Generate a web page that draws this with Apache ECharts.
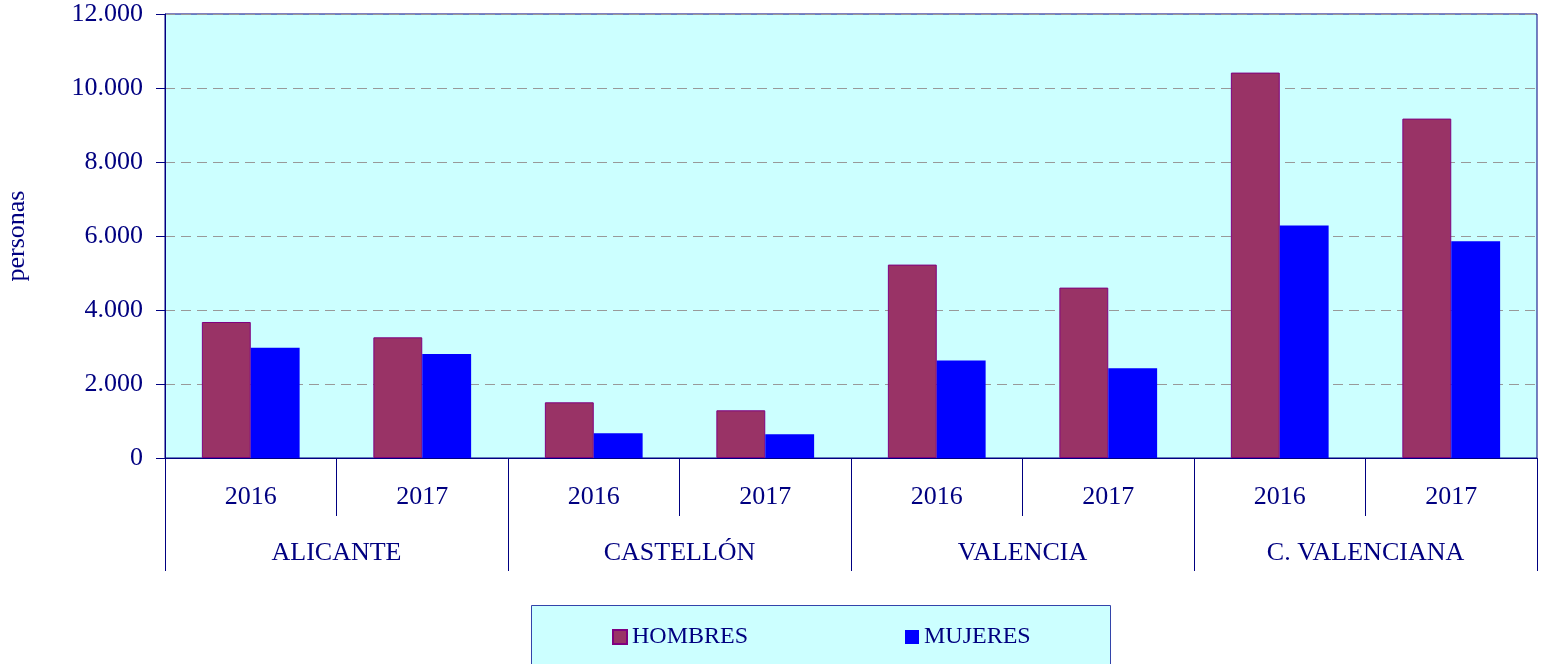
<!DOCTYPE html>
<html>
<head>
<meta charset="utf-8">
<script src="https://cdn.jsdelivr.net/npm/echarts@6/dist/echarts.min.js"></script>
<style>
  html, body { margin: 0; padding: 0; background: #fff; }
  #container { width: 1541px; height: 664px; }
</style>
</head>
<body>
<div id="container"></div>
<script>
// datos
var years = ['2016', '2017', '2016', '2017', '2016', '2017', '2016', '2017'];
var regions = ['ALICANTE', 'CASTELLÓN', 'VALENCIA', 'C. VALENCIANA'];
var hombres = [3676, 3261, 1505, 1289, 5227, 4605, 10416, 9173];
var mujeres = [2981, 2811, 668, 641, 2632, 2424, 6281, 5857];
var yTicks = { min: 0, max: 12000, interval: 2000 };

var navy = '#000080';
var font = '"Liberation Serif", "Times New Roman", serif';

var fmtMiles = function (v) {
    return String(v).replace(/\B(?=(\d{3})+(?!\d))/g, '.');
};

var dom = document.getElementById('container');
var myChart = echarts.init(dom);

var option = {
    animation: false,
    textStyle: { fontFamily: font, color: navy },
    grid: {
        left: 165,
        right: 4,
        top: 14,
        bottom: 206,
        outerBoundsMode: 'none',
        containLabel: false,
        show: true,
        backgroundColor: '#ccffff',
        borderColor: navy,
        borderWidth: 1
    },
    legend: {
        data: ['HOMBRES', 'MUJERES'],
        left: 612,
        top: 625,
        padding: 0,
        icon: 'rect',
        itemWidth: 14,
        itemHeight: 14,
        itemGap: 157,
        textStyle: { fontFamily: font, fontSize: 24, color: navy }
    },
    graphic: [{
        type: 'rect',
        z: -1,
        shape: { x: 531.5, y: 605.5, width: 579, height: 70 },
        style: { fill: '#ccffff', stroke: '#3344aa', lineWidth: 1 }
    }],
    xAxis: [
        {
            type: 'category',
            data: years,
            position: 'bottom',
            axisLine: { show: true, lineStyle: { color: navy, width: 1 } },
            axisTick: { show: true, interval: 0, length: 58, lineStyle: { color: navy, width: 1 } },
            axisLabel: { interval: 0, margin: 26, fontSize: 26, fontFamily: font, color: navy }
        },
        {
            type: 'category',
            data: regions,
            position: 'bottom',
            axisLine: { show: false },
            axisTick: { show: true, interval: 0, length: 113, lineStyle: { color: navy, width: 1 } },
            axisLabel: { interval: 0, margin: 82, fontSize: 26, fontFamily: font, color: navy }
        }
    ],
    yAxis: {
        type: 'value',
        min: yTicks.min,
        max: yTicks.max,
        interval: yTicks.interval,
        name: 'personas',
        nameLocation: 'middle',
        nameRotate: 90,
        nameGap: 135,
        nameTextStyle: { fontFamily: font, fontSize: 26, color: navy },
        axisLine: { show: true, lineStyle: { color: navy } },
        axisTick: { show: true, length: 9, lineStyle: { color: navy } },
        axisLabel: { margin: 22, fontSize: 26, fontFamily: font, color: navy, formatter: fmtMiles },
        splitLine: { lineStyle: { color: '#999999', type: [10, 6], width: 1 } }
    },
    series: [
        {
            name: 'HOMBRES',
            type: 'bar',
            xAxisIndex: 0,
            data: hombres,
            barGap: '0%',
            barCategoryGap: '43%',
            itemStyle: { color: '#993366', borderColor: '#800080', borderWidth: 1 }
        },
        {
            name: 'MUJERES',
            type: 'bar',
            xAxisIndex: 0,
            data: mujeres,
            barGap: '0%',
            barCategoryGap: '43%',
            itemStyle: { color: '#0000ff' }
        }
    ]
};

if (option && typeof option === 'object') {
    myChart.setOption(option, true);
}
</script>
</body>
</html>
